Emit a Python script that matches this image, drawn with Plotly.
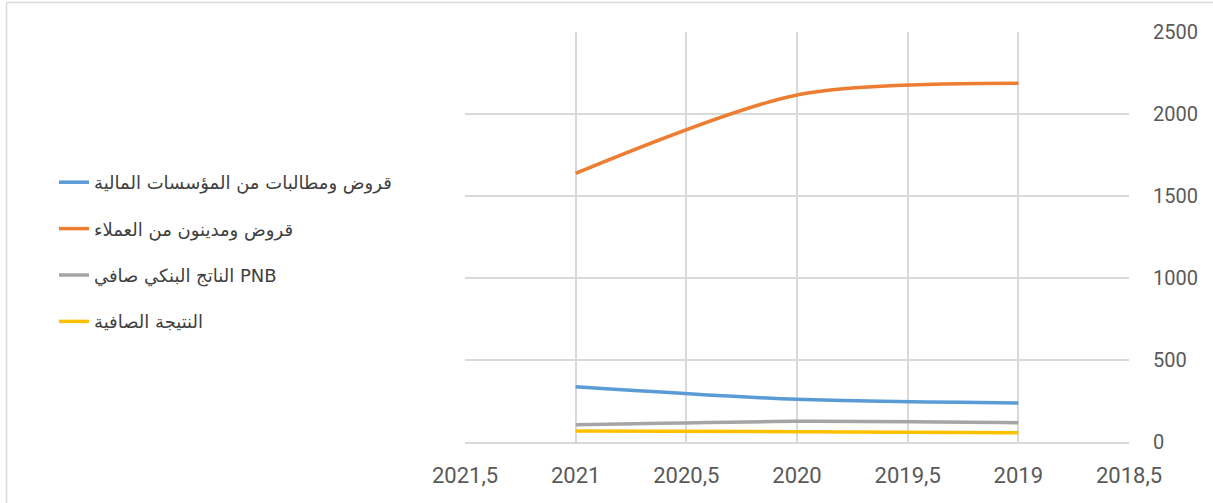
import plotly.graph_objects as go

years = [2021, 2020, 2019]
series_names = [
    "قروض ومطالبات من المؤسسات المالية",
    "قروض ومدينون من العملاء",
    "الناتج البنكي صافي PNB",
    "النتيجة الصافية",
]
loans_banks = [337, 260, 238]
loans_clients = [1638, 2116, 2187]
pnb = [105, 126, 118]
net_result = [67, 63, 57]
colors = ["#5B9BD5", "#ED7D31", "#A5A5A5", "#FFC000"]
x_ticks = [2021.5, 2021, 2020.5, 2020, 2019.5, 2019, 2018.5]
x_labels = ["2021,5", "2021", "2020,5", "2020", "2019,5", "2019", "2018,5"]
y_ticks = [0, 500, 1000, 1500, 2000, 2500]

fig = go.Figure()
for i, (name, vals) in enumerate(zip(series_names, [loans_banks, loans_clients, pnb, net_result])):
    fig.add_trace(go.Scatter(
        x=years, y=vals, name=name, mode="lines",
        line=dict(color=colors[i], width=3.5, shape="spline", smoothing=0.8),
        legendgroup=f"g{i}",
    ))

L, R, T, B = 465, 84, 32, 61
W, H = 1213, 503
pw, ph = W - L - R, H - T - B

def px2x(px):
    return (px - L) / pw

def py2y(py):
    return (H - B - py) / ph

fig.update_layout(
    width=W, height=H,
    margin=dict(l=L, r=R, t=T, b=B),
    paper_bgcolor="white", plot_bgcolor="white",
    font=dict(family="Roboto, Liberation Sans, DejaVu Sans, sans-serif", color="#595959"),
    xaxis=dict(
        range=[2021.5, 2018.5], tickvals=x_ticks, ticktext=x_labels,
        showgrid=True, gridcolor="#D9D9D9", gridwidth=1.5,
        zeroline=False, showline=True, linecolor="#D9D9D9", linewidth=1.5,
        ticks="", tickfont=dict(family="Roboto, Liberation Sans, sans-serif", size=22, color="#595959"),
        ticklabelstandoff=13,
    ),
    yaxis=dict(
        range=[0, 2500], tickvals=y_ticks, side="right",
        showgrid=True, gridcolor="#D9D9D9", gridwidth=1.5,
        zeroline=False, showline=False, ticks="",
        tickfont=dict(family="Roboto, Liberation Sans, sans-serif", size=20, color="#595959"),
        ticklabelstandoff=23,
    ),
    legend=dict(
        xref="container", yref="container", x=54 / W, y=1 - 164 / H,
        xanchor="left", yanchor="top",
        font=dict(family="DejaVu Sans, sans-serif", size=18, color="#404040"),
        traceorder="grouped", tracegroupgap=20, bgcolor="rgba(0,0,0,0)",
        itemwidth=30,
    ),
    showlegend=True,
    shapes=[
        dict(type="line", xref="paper", yref="paper", x0=px2x(6.5), x1=px2x(6.5),
             y0=py2y(2.5), y1=py2y(510), line=dict(color="#D9D9D9", width=1.5)),
        dict(type="line", xref="paper", yref="paper", x0=px2x(6.5), x1=px2x(1220),
             y0=py2y(2.5), y1=py2y(2.5), line=dict(color="#D9D9D9", width=1.5)),
    ],
)

fig.write_html("out.html")
